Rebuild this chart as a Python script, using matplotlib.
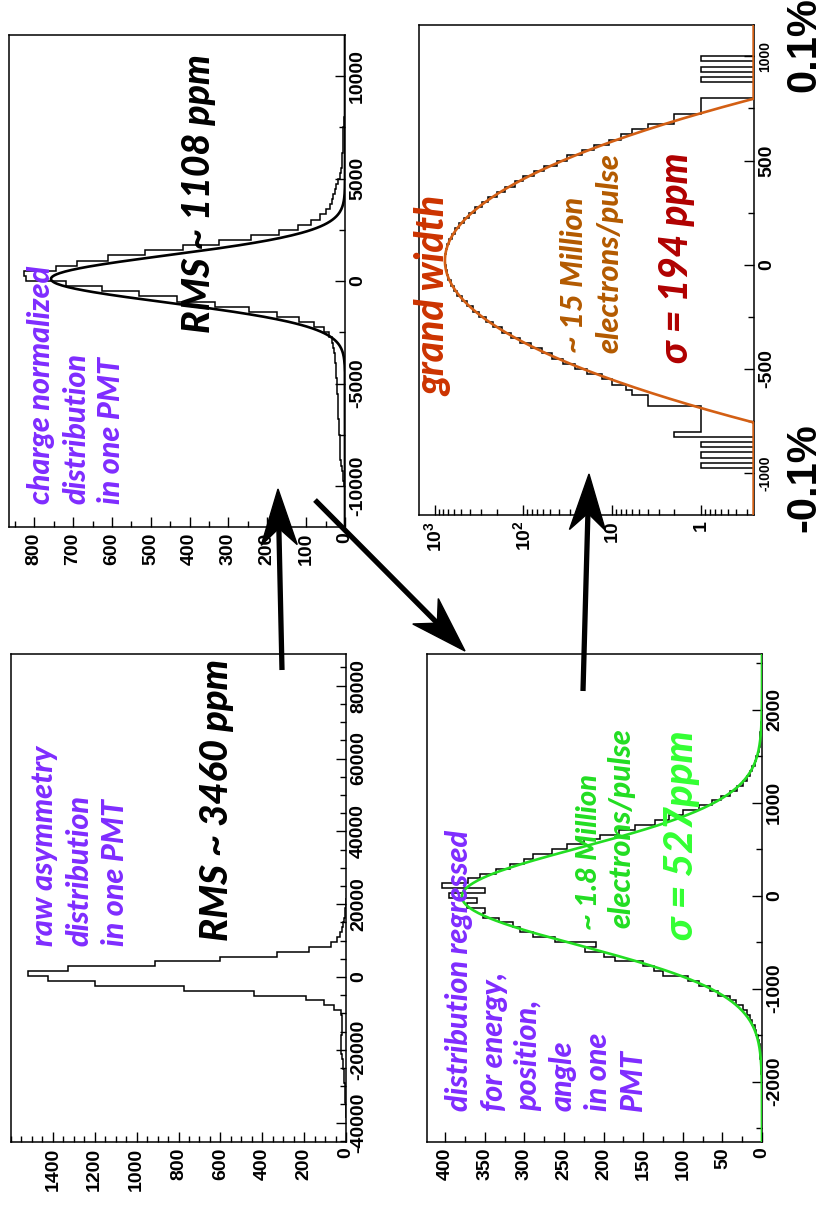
import numpy as np
import matplotlib
matplotlib.use("Agg")
import matplotlib.pyplot as plt
from matplotlib.ticker import MultipleLocator, FixedLocator, FuncFormatter, NullFormatter, LogLocator
from matplotlib.patches import Polygon

plt.rcParams['axes.unicode_minus'] = False
plt.rcParams['mathtext.fontset'] = 'custom'
plt.rcParams['mathtext.rm'] = 'Liberation Sans:bold'
plt.rcParams['mathtext.bf'] = 'Liberation Sans:bold'

# ---------------- data ----------------
# Panel A: charge normalized asymmetry (ppm), bins of 250
a_bin_lo = -10250
a_bin_w = 250
a_counts = [1, 2, 4, 6, 8, 10, 12, 12, 13, 14, 14, 15, 16, 16, 17, 18, 18, 19, 19, 20,
            21, 21, 22, 23, 24, 25, 27, 28, 30, 33, 40, 55, 80, 118, 175, 248, 335, 432,
            530, 625, 718, 822, 826, 745, 690, 610, 515, 418, 325, 242, 170, 121, 88, 64,
            48, 38, 33, 30, 26, 22, 17, 13, 11, 9, 8, 7, 6, 6, 5, 5, 4, 3, 2, 1]
a_fit = dict(mean=100, sigma=1150, amp=757)
a_asym_lim = (-12000, 12000)
a_count_max = 865

# Panel B: grand width (log), bins of 25
b_bin_lo = -1200
b_bin_w = 25
b_counts = [0, 0, 0, 0, 0, 0, 0, 0, 0, 1, 0, 1, 0, 1, 0, 2, 1, 1, 1, 1, 1, 4, 4, 6, 7,
            10, 13, 19, 26, 36, 48, 62, 83, 108, 138, 174, 219, 262, 318, 372, 434, 490,
            553, 605, 660, 698, 735, 752, 768, 760, 750, 718, 686, 636, 588, 525, 470, 406,
            352, 294, 248, 198, 163, 126, 101, 77, 58, 42, 32, 22, 16, 11, 8, 6, 4, 2, 2,
            1, 1, 1, 0, 0, 0, 1, 0, 1, 0, 1, 0, 0, 0, 0, 0, 0]
b_fit = dict(mean=20, sigma=194, amp=766)
b_asym_lim = (-1200, 1150)
b_count_lim = (0.253, 1500)

# Panel C: raw asymmetry, bins of 1340
c_bin_lo = -38600
c_bin_w = 1340
c_counts = [1, 1, 2, 3, 4, 5, 6, 8, 9, 11, 13, 15, 18, 22, 26, 25, 22, 20, 18, 19, 20, 22,
            58, 104, 192, 440, 776, 1200, 1424, 1520, 1328, 912, 603, 331, 176, 72, 45, 30,
            20, 12, 8, 5, 3, 2, 1]
c_asym_lim = (-45300, 88700)
c_count_max = 1600

# Panel D: regressed asymmetry, bins of 52.5
d_bin_lo = -1915
d_bin_w = 52.5
d_counts = [1, 1, 1, 2, 3, 3, 4, 5, 7, 9, 12, 15, 19, 24, 33, 40, 55, 66, 80, 93, 125, 137,
            150, 185, 200, 224, 209, 262, 289, 305, 314, 332, 352, 350, 373, 360, 395, 350,
            404, 371, 356, 336, 318, 300, 289, 265, 246, 225, 204, 180, 160, 135, 118, 100,
            80, 63, 52, 40, 32, 24, 19, 15, 12, 9, 7, 5, 4, 3, 2, 2, 1, 1]
d_fit = dict(mean=-10, sigma=527, amp=379)
d_asym_lim = (-2650, 2600)
d_count_max = 423

# ---------------- style ----------------
W, H = 817, 1205
TICKFONT = 'Liberation Sans'
ANN = ['Lato', 'DejaVu Sans']
PURPLE = '#7F2CFF'

fig = plt.figure(figsize=(W / 100, H / 100), dpi=100)


def ax_at(x0, y0, x1, y1):
    return fig.add_axes([x0 / W, 1 - y1 / H, (x1 - x0) / W, (y1 - y0) / H])


def gauss(y, p):
    return p['amp'] * np.exp(-0.5 * ((y - p['mean']) / p['sigma']) ** 2)


def style_axes(ax, ymajor, yminor, tsize=14):
    for s in ax.spines.values():
        s.set_linewidth(1.1)
    ax.tick_params(axis='y', which='both', direction='in', left=False, right=True,
                   labelleft=False, labelright=True, labelrotation=90, pad=3,
                   labelsize=tsize, width=1)
    ax.tick_params(axis='x', which='both', direction='in', top=False, bottom=True,
                   labelrotation=90, pad=4, labelsize=tsize, width=1)
    ax.tick_params(which='major', length=7)
    ax.tick_params(which='minor', length=4)
    if ymajor is not None:
        ax.yaxis.set_major_locator(MultipleLocator(ymajor))
    ax.yaxis.set_minor_locator(MultipleLocator(yminor))
    ax.yaxis.set_major_formatter(FuncFormatter(lambda v, p: f"{int(round(v))}"))
    for lab in ax.get_xticklabels() + ax.get_yticklabels():
        lab.set_fontfamily(TICKFONT)
        lab.set_fontweight('bold')
    for lab in ax.get_yticklabels():
        lab.set_va('center')


def hist(ax, lo, w, counts, baseline=0.0, floor=None):
    vals = np.asarray(counts, float)
    edges = lo + w * np.arange(len(vals) + 1)
    if floor is not None:
        vals = np.where(vals > 0, vals, floor)
    ax.stairs(vals, edges, orientation='horizontal', baseline=baseline,
              color='black', lw=1.1, zorder=3)


# ---------- Panel A ----------
axA = ax_at(9, 35, 345, 527)
hist(axA, a_bin_lo, a_bin_w, a_counts)
yy = np.linspace(*a_asym_lim, 600)
axA.plot(gauss(yy, a_fit), yy, color='black', lw=1.9, zorder=4)
axA.set_ylim(*a_asym_lim)
axA.set_xlim(a_count_max, 0)
axA.xaxis.set_major_locator(MultipleLocator(100))
axA.xaxis.set_minor_locator(MultipleLocator(50))
style_axes(axA, 5000, 2500)

# ---------- Panel B ----------
axB = ax_at(419, 25, 754, 515)
axB.set_xscale('log')
hist(axB, b_bin_lo, b_bin_w, b_counts, baseline=b_count_lim[0], floor=b_count_lim[0])
yy = np.linspace(*b_asym_lim, 800)
axB.plot(np.maximum(gauss(yy, b_fit), b_count_lim[0] * 1.01), yy, color='#D35F14', lw=1.9, zorder=4)
axB.set_ylim(*b_asym_lim)
axB.set_xlim(b_count_lim[1], b_count_lim[0])
axB.xaxis.set_major_locator(FixedLocator([1, 10, 100, 1000]))
axB.xaxis.set_minor_locator(LogLocator(base=10, subs=np.arange(2, 10), numticks=20))
axB.xaxis.set_minor_formatter(NullFormatter())
axB.xaxis.set_major_formatter(FuncFormatter(
    lambda v, p: {1: '1', 10: '10', 100: r'$\mathbf{10^{2}}$', 1000: r'$\mathbf{10^{3}}$'}.get(int(round(v)), '')))
axB.yaxis.set_major_locator(FixedLocator([-1000, -500, 0, 500, 1000]))
style_axes(axB, None, 250)
for t, v in zip(axB.yaxis.get_major_ticks(), axB.yaxis.get_majorticklocs()):
    t.label2.set_fontsize(10 if abs(v) > 900 else 14)

# ---------- Panel C ----------
axC = ax_at(11, 654, 346, 1142)
hist(axC, c_bin_lo, c_bin_w, c_counts)
axC.set_ylim(*c_asym_lim)
axC.set_xlim(c_count_max, 0)
axC.xaxis.set_major_locator(FixedLocator(np.arange(0, 1401, 200)))
axC.xaxis.set_minor_locator(MultipleLocator(50))
style_axes(axC, 20000, 5000)

# ---------- Panel D ----------
axD = ax_at(427, 654, 762, 1142)
hist(axD, d_bin_lo, d_bin_w, d_counts)
yy = np.linspace(*d_asym_lim, 600)
axD.plot(gauss(yy, d_fit), yy, color='#22DD22', lw=1.9, zorder=4)
axD.set_ylim(*d_asym_lim)
axD.set_xlim(d_count_max, 0)
axD.xaxis.set_major_locator(MultipleLocator(50))
axD.xaxis.set_minor_locator(MultipleLocator(25))
style_axes(axD, 1000, 500)

# ---------- overlay: texts and arrows ----------
ov = fig.add_axes([0, 0, 1, 1])
ov.set_xlim(0, W)
ov.set_ylim(H, 0)
ov.axis('off')
ov.patch.set_visible(False)


def vtext(x, y, s, size, color, family=ANN, style='italic', weight='black'):
    ov.text(x, y, s, rotation=90, rotation_mode='anchor', ha='left', va='baseline',
            fontsize=size, color=color, family=family, style=style, weight=weight, zorder=10)


def arrow(x0, y0, x1, y1, lw=3.8, L=56, w=18, notch=0.7):
    d = np.array([x1 - x0, y1 - y0], float)
    u = d / np.hypot(*d)
    n = np.array([-u[1], u[0]])
    tip = np.array([x1, y1], float)
    base = tip - u * L
    nb = tip - u * L * notch
    ov.plot([x0, nb[0]], [y0, nb[1]], color='k', lw=lw, solid_capstyle='butt', zorder=11)
    ov.add_patch(Polygon([tip, base + n * w, nb, base - n * w], closed=True,
                         facecolor='k', edgecolor='k', zorder=12))


# Panel A texts
for bx, s in zip([50, 85, 120], ['charge normalized', 'distribution', 'in one PMT']):
    vtext(bx, 504, s, 22, PURPLE)
vtext(210, 333, 'RMS ~ 1108 ppm', 27, 'black')

# Panel C texts
for bx, s in zip([53, 88, 124], ['raw asymmetry', 'distribution', 'in one PMT']):
    vtext(bx, 946, s, 22, PURPLE)
vtext(228, 941, 'RMS ~ 3460 ppm', 27.5, 'black')

# Panel B texts
vtext(445, 396, 'grand width', 28, '#CC3300')
vtext(583, 353, '~ 15 Million', 22, '#B35A00')
vtext(618, 353, 'electrons/pulse', 22, '#B35A00')
vtext(688, 363, 'σ = 194 ppm', 28, '#B00000')

# Panel D texts
for bx, s in zip([468, 503, 537, 572, 607, 642],
                 ['distribution regressed', 'for energy,', 'position,', 'angle', 'in one', 'PMT']):
    vtext(bx, 1111, s, 22, PURPLE)
vtext(597, 930, '~ 1.8 Million', 21, '#22DD22')
vtext(630, 928, 'electrons/pulse', 22, '#22DD22')
vtext(693, 940, 'σ = 527ppm', 29, '#33FF33')

# big percent labels
vtext(815, 92, '0.1%', 30, 'black', family=['Liberation Sans'], style='normal', weight='bold')
vtext(815, 532, '-0.1%', 30, 'black', family=['Liberation Sans'], style='normal', weight='bold')

# arrows
arrow(282, 670, 278, 489)
arrow(315, 500, 465, 651)
arrow(583, 691, 589, 474)

fig.savefig('out.png', dpi=100)
